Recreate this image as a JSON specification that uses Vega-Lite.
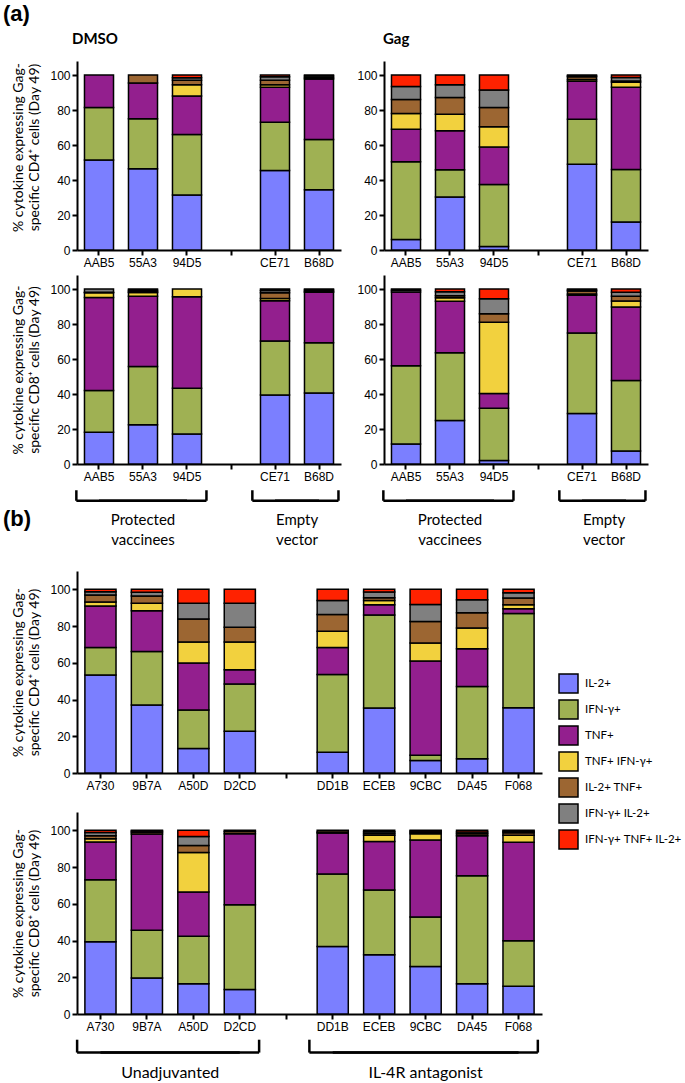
{
"$schema":"https://vega.github.io/schema/vega-lite/v6.json",
"autosize":{"type":"pad"},
"padding":{"left":3,"top":3,"right":0,"bottom":0},
"title":{"text":"(a)","anchor":"start","frame":"bounds","font":"Liberation Sans","fontSize":22,"fontWeight":"bold","color":"#000","offset":6},
"datasets":{
"bars":[
{"p":"aDC4","a":"AAB5","IL-2+":51.5,"IFN-γ+":30,"TNF+":18.5,"TNF+ IFN-γ+":0,"IL-2+ TNF+":0,"IFN-γ+ IL-2+":0,"IFN-γ+ TNF+ IL-2+":0},
{"p":"aDC4","a":"55A3","IL-2+":46.5,"IFN-γ+":28.5,"TNF+":20.5,"TNF+ IFN-γ+":0,"IL-2+ TNF+":4.5,"IFN-γ+ IL-2+":0,"IFN-γ+ TNF+ IL-2+":0},
{"p":"aDC4","a":"94D5","IL-2+":31.5,"IFN-γ+":34.5,"TNF+":22,"TNF+ IFN-γ+":6.5,"IL-2+ TNF+":2.5,"IFN-γ+ IL-2+":1.5,"IFN-γ+ TNF+ IL-2+":1.5},
{"p":"aDC4","a":"CE71","IL-2+":45.5,"IFN-γ+":27.5,"TNF+":20,"TNF+ IFN-γ+":1.5,"IL-2+ TNF+":2.5,"IFN-γ+ IL-2+":2,"IFN-γ+ TNF+ IL-2+":1},
{"p":"aDC4","a":"B68D","IL-2+":34.5,"IFN-γ+":28.7,"TNF+":34.5,"TNF+ IFN-γ+":0,"IL-2+ TNF+":0.8,"IFN-γ+ IL-2+":1,"IFN-γ+ TNF+ IL-2+":0.5},
{"p":"aGC4","a":"AAB5","IL-2+":6,"IFN-γ+":44.5,"TNF+":18.5,"TNF+ IFN-γ+":9,"IL-2+ TNF+":8,"IFN-γ+ IL-2+":7.5,"IFN-γ+ TNF+ IL-2+":6.5},
{"p":"aGC4","a":"55A3","IL-2+":30.3,"IFN-γ+":15.5,"TNF+":22.4,"TNF+ IFN-γ+":9.4,"IL-2+ TNF+":9.6,"IFN-γ+ IL-2+":7.2,"IFN-γ+ TNF+ IL-2+":5.6},
{"p":"aGC4","a":"94D5","IL-2+":2,"IFN-γ+":35.5,"TNF+":21.3,"TNF+ IFN-γ+":11.7,"IL-2+ TNF+":10.9,"IFN-γ+ IL-2+":10,"IFN-γ+ TNF+ IL-2+":8.6},
{"p":"aGC4","a":"CE71","IL-2+":49,"IFN-γ+":25.7,"TNF+":21.7,"TNF+ IFN-γ+":1,"IL-2+ TNF+":1.6,"IFN-γ+ IL-2+":0.6,"IFN-γ+ TNF+ IL-2+":0.4},
{"p":"aGC4","a":"B68D","IL-2+":16,"IFN-γ+":30,"TNF+":47,"TNF+ IFN-γ+":2.8,"IL-2+ TNF+":0.8,"IFN-γ+ IL-2+":2,"IFN-γ+ TNF+ IL-2+":1.4},
{"p":"aDC8","a":"AAB5","IL-2+":18.2,"IFN-γ+":23.8,"TNF+":53.2,"TNF+ IFN-γ+":2.7,"IL-2+ TNF+":0.3,"IFN-γ+ IL-2+":1.8,"IFN-γ+ TNF+ IL-2+":0},
{"p":"aDC8","a":"55A3","IL-2+":22.4,"IFN-γ+":33.3,"TNF+":40.1,"TNF+ IFN-γ+":2.2,"IL-2+ TNF+":0.5,"IFN-γ+ IL-2+":0.8,"IFN-γ+ TNF+ IL-2+":0.7},
{"p":"aDC8","a":"94D5","IL-2+":17.2,"IFN-γ+":26.1,"TNF+":52.3,"TNF+ IFN-γ+":4.4,"IL-2+ TNF+":0,"IFN-γ+ IL-2+":0,"IFN-γ+ TNF+ IL-2+":0},
{"p":"aDC8","a":"CE71","IL-2+":39.5,"IFN-γ+":30.8,"TNF+":23,"TNF+ IFN-γ+":1.3,"IL-2+ TNF+":3.3,"IFN-γ+ IL-2+":1.2,"IFN-γ+ TNF+ IL-2+":0.9},
{"p":"aDC8","a":"B68D","IL-2+":40.6,"IFN-γ+":28.7,"TNF+":28.8,"TNF+ IFN-γ+":0,"IL-2+ TNF+":0.5,"IFN-γ+ IL-2+":0.8,"IFN-γ+ TNF+ IL-2+":0.6},
{"p":"aGC8","a":"AAB5","IL-2+":11.4,"IFN-γ+":44.8,"TNF+":42.1,"TNF+ IFN-γ+":0,"IL-2+ TNF+":0,"IFN-γ+ IL-2+":1,"IFN-γ+ TNF+ IL-2+":0.7},
{"p":"aGC8","a":"55A3","IL-2+":24.8,"IFN-γ+":38.8,"TNF+":29.4,"TNF+ IFN-γ+":2,"IL-2+ TNF+":1.2,"IFN-γ+ IL-2+":2.3,"IFN-γ+ TNF+ IL-2+":1.5},
{"p":"aGC8","a":"94D5","IL-2+":2,"IFN-γ+":29.8,"TNF+":8.5,"TNF+ IFN-γ+":40.7,"IL-2+ TNF+":4.9,"IFN-γ+ IL-2+":8.5,"IFN-γ+ TNF+ IL-2+":5.6},
{"p":"aGC8","a":"CE71","IL-2+":28.9,"IFN-γ+":45.9,"TNF+":21.7,"TNF+ IFN-γ+":0.7,"IL-2+ TNF+":1.6,"IFN-γ+ IL-2+":0.7,"IFN-γ+ TNF+ IL-2+":0.5},
{"p":"aGC8","a":"B68D","IL-2+":7.4,"IFN-γ+":40.3,"TNF+":42,"TNF+ IFN-γ+":3.5,"IL-2+ TNF+":2.7,"IFN-γ+ IL-2+":2.3,"IFN-γ+ TNF+ IL-2+":1.8},
{"p":"bC4","a":"A730","IL-2+":53.3,"IFN-γ+":15.1,"TNF+":22.5,"TNF+ IFN-γ+":2.2,"IL-2+ TNF+":3.8,"IFN-γ+ IL-2+":1.8,"IFN-γ+ TNF+ IL-2+":1.3},
{"p":"bC4","a":"9B7A","IL-2+":37,"IFN-γ+":29.2,"TNF+":22.1,"TNF+ IFN-γ+":4.2,"IL-2+ TNF+":3.9,"IFN-γ+ IL-2+":2,"IFN-γ+ TNF+ IL-2+":1.6},
{"p":"bC4","a":"A50D","IL-2+":13.3,"IFN-γ+":21,"TNF+":25.6,"TNF+ IFN-γ+":11.5,"IL-2+ TNF+":12.5,"IFN-γ+ IL-2+":8.6,"IFN-γ+ TNF+ IL-2+":7.5},
{"p":"bC4","a":"D2CD","IL-2+":22.8,"IFN-γ+":25.6,"TNF+":7.8,"TNF+ IFN-γ+":15.2,"IL-2+ TNF+":8,"IFN-γ+ IL-2+":13.1,"IFN-γ+ TNF+ IL-2+":7.5},
{"p":"bC4","a":"DD1B","IL-2+":11.3,"IFN-γ+":42.3,"TNF+":14.8,"TNF+ IFN-γ+":8.8,"IL-2+ TNF+":9.1,"IFN-γ+ IL-2+":7.7,"IFN-γ+ TNF+ IL-2+":6},
{"p":"bC4","a":"ECEB","IL-2+":35.4,"IFN-γ+":50.7,"TNF+":5.5,"TNF+ IFN-γ+":2.4,"IL-2+ TNF+":1.5,"IFN-γ+ IL-2+":3,"IFN-γ+ TNF+ IL-2+":1.5},
{"p":"bC4","a":"9CBC","IL-2+":6.8,"IFN-γ+":2.9,"TNF+":51.3,"TNF+ IFN-γ+":9.8,"IL-2+ TNF+":11.7,"IFN-γ+ IL-2+":9.3,"IFN-γ+ TNF+ IL-2+":8.2},
{"p":"bC4","a":"DA45","IL-2+":7.8,"IFN-γ+":39.3,"TNF+":20.6,"TNF+ IFN-γ+":11.3,"IL-2+ TNF+":8.2,"IFN-γ+ IL-2+":7.1,"IFN-γ+ TNF+ IL-2+":5.7},
{"p":"bC4","a":"F068","IL-2+":35.6,"IFN-γ+":51.3,"TNF+":2.5,"TNF+ IFN-γ+":2.2,"IL-2+ TNF+":3.7,"IFN-γ+ IL-2+":2.9,"IFN-γ+ TNF+ IL-2+":1.8},
{"p":"bC8","a":"A730","IL-2+":39.4,"IFN-γ+":33.7,"TNF+":20.5,"TNF+ IFN-γ+":1.9,"IL-2+ TNF+":1.6,"IFN-γ+ IL-2+":1.8,"IFN-γ+ TNF+ IL-2+":1.1},
{"p":"bC8","a":"9B7A","IL-2+":19.6,"IFN-γ+":26,"TNF+":52.4,"TNF+ IFN-γ+":0,"IL-2+ TNF+":1,"IFN-γ+ IL-2+":0.6,"IFN-γ+ TNF+ IL-2+":0.4},
{"p":"bC8","a":"A50D","IL-2+":16.5,"IFN-γ+":25.8,"TNF+":24.1,"TNF+ IFN-γ+":21.6,"IL-2+ TNF+":3.7,"IFN-γ+ IL-2+":4.9,"IFN-γ+ TNF+ IL-2+":3.4},
{"p":"bC8","a":"D2CD","IL-2+":13.4,"IFN-γ+":46.1,"TNF+":38.7,"TNF+ IFN-γ+":0,"IL-2+ TNF+":1.2,"IFN-γ+ IL-2+":0.6,"IFN-γ+ TNF+ IL-2+":0},
{"p":"bC8","a":"DD1B","IL-2+":36.8,"IFN-γ+":39.4,"TNF+":22.3,"TNF+ IFN-γ+":0.6,"IL-2+ TNF+":0.9,"IFN-γ+ IL-2+":0,"IFN-γ+ TNF+ IL-2+":0},
{"p":"bC8","a":"ECEB","IL-2+":32.3,"IFN-γ+":35.2,"TNF+":26.5,"TNF+ IFN-γ+":3.3,"IL-2+ TNF+":1,"IFN-γ+ IL-2+":1,"IFN-γ+ TNF+ IL-2+":0.7},
{"p":"bC8","a":"9CBC","IL-2+":25.8,"IFN-γ+":27,"TNF+":41.9,"TNF+ IFN-γ+":3.5,"IL-2+ TNF+":0.8,"IFN-γ+ IL-2+":0.6,"IFN-γ+ TNF+ IL-2+":0.4},
{"p":"bC8","a":"DA45","IL-2+":16.5,"IFN-γ+":58.8,"TNF+":21.8,"TNF+ IFN-γ+":0,"IL-2+ TNF+":1,"IFN-γ+ IL-2+":1,"IFN-γ+ TNF+ IL-2+":0.9},
{"p":"bC8","a":"F068","IL-2+":15.1,"IFN-γ+":24.8,"TNF+":53.6,"TNF+ IFN-γ+":3.8,"IL-2+ TNF+":1.4,"IFN-γ+ IL-2+":0.8,"IFN-γ+ TNF+ IL-2+":0.5}
],
"groups":[
{"sec":"a","label":"Protected\nvaccinees","first":"AAB5","last":"94D5","mid":"55A3"},
{"sec":"a","label":"Empty\nvector","first":"CE71","last":"B68D","mid":"CE71"},
{"sec":"b","label":"Unadjuvanted","first":"A730","last":"D2CD","mid":"9B7A"},
{"sec":"b","label":"IL-4R antagonist","first":"DD1B","last":"F068","mid":"9CBC"}
]
},
"vconcat":[
{"hconcat":[
 {"width":264,"height":189,
  "title":{"text":"DMSO","anchor":"start","frame":"group","dx":-5,"offset":14,"font":"Lato","fontSize":15,"fontWeight":"bold","color":"#000"},
  "data":{"name":"bars"},
  "transform":[{"filter":"datum.p === 'aDC4'"},{"fold":["IL-2+","IFN-γ+","TNF+","TNF+ IFN-γ+","IL-2+ TNF+","IFN-γ+ IL-2+","IFN-γ+ TNF+ IL-2+"],"as":["cytokine","pct"]},{"filter":"datum.pct > 0"},{"calculate":"indexof(['IL-2+','IFN-γ+','TNF+','TNF+ IFN-γ+','IL-2+ TNF+','IFN-γ+ IL-2+','IFN-γ+ TNF+ IL-2+'], datum.cytokine)","as":"k"}],
  "mark":"bar",
  "encoding":{
   "x":{"field":"a","type":"nominal","scale":{"domain":["AAB5","55A3","94D5"," ","CE71","B68D"],"paddingInner":0.34,"paddingOuter":0.17},"axis":{"title":null}},
   "y":{"field":"pct","type":"quantitative","stack":"zero","scale":{"domain":[0,108],"nice":false},"axis":{"values":[0,20,40,60,80,100],"titleY":86,"title":["% cytokine expressing Gag-","specific CD4⁺ cells (Day 49)"]}},
   "order":{"field":"k","type":"quantitative"},
   "color":{"field":"cytokine","type":"nominal","scale":{"domain":["IL-2+","IFN-γ+","TNF+","TNF+ IFN-γ+","IL-2+ TNF+","IFN-γ+ IL-2+","IFN-γ+ TNF+ IL-2+"],"range":["#7B7FFF","#9FB153","#931F8E","#F2D13E","#9C6632","#808080","#FF2200"]},"legend":null}
  }
 },
 {"width":264,"height":189,
  "title":{"text":"Gag","anchor":"start","frame":"group","dx":-1,"offset":14,"font":"Lato","fontSize":15,"fontWeight":"bold","color":"#000"},
  "data":{"name":"bars"},
  "transform":[{"filter":"datum.p === 'aGC4'"},{"fold":["IL-2+","IFN-γ+","TNF+","TNF+ IFN-γ+","IL-2+ TNF+","IFN-γ+ IL-2+","IFN-γ+ TNF+ IL-2+"],"as":["cytokine","pct"]},{"filter":"datum.pct > 0"},{"calculate":"indexof(['IL-2+','IFN-γ+','TNF+','TNF+ IFN-γ+','IL-2+ TNF+','IFN-γ+ IL-2+','IFN-γ+ TNF+ IL-2+'], datum.cytokine)","as":"k"}],
  "mark":"bar",
  "encoding":{
   "x":{"field":"a","type":"nominal","scale":{"domain":["AAB5","55A3","94D5"," ","CE71","B68D"],"paddingInner":0.34,"paddingOuter":0.17},"axis":{"title":null}},
   "y":{"field":"pct","type":"quantitative","stack":"zero","scale":{"domain":[0,108],"nice":false},"axis":{"values":[0,20,40,60,80,100],"title":null}},
   "order":{"field":"k","type":"quantitative"},
   "color":{"field":"cytokine","type":"nominal","scale":{"domain":["IL-2+","IFN-γ+","TNF+","TNF+ IFN-γ+","IL-2+ TNF+","IFN-γ+ IL-2+","IFN-γ+ TNF+ IL-2+"],"range":["#7B7FFF","#9FB153","#931F8E","#F2D13E","#9C6632","#808080","#FF2200"]},"legend":null}
  }
 }
],"bounds":"flush","spacing":43,"resolve":{"scale":{"color":"independent"},"legend":{"color":"independent"}}},
{"width":264,"height":214,"data":{"values":[{}]},"mark":{"type":"point","opacity":0},"encoding":{}},
{"hconcat":[
 {"width":264,"height":189,
  "layer":[
   {"data":{"name":"bars"},
    "transform":[{"filter":"datum.p === 'aDC8'"},{"fold":["IL-2+","IFN-γ+","TNF+","TNF+ IFN-γ+","IL-2+ TNF+","IFN-γ+ IL-2+","IFN-γ+ TNF+ IL-2+"],"as":["cytokine","pct"]},{"filter":"datum.pct > 0"},{"calculate":"indexof(['IL-2+','IFN-γ+','TNF+','TNF+ IFN-γ+','IL-2+ TNF+','IFN-γ+ IL-2+','IFN-γ+ TNF+ IL-2+'], datum.cytokine)","as":"k"}],
    "mark":"bar",
    "encoding":{
     "x":{"field":"a","type":"nominal","scale":{"domain":["AAB5","55A3","94D5"," ","CE71","B68D"],"paddingInner":0.34,"paddingOuter":0.17},"axis":{"title":null}},
     "y":{"field":"pct","type":"quantitative","stack":"zero","scale":{"domain":[0,108],"nice":false},"axis":{"values":[0,20,40,60,80,100],"title":["% cytokine expressing Gag-","specific CD8⁺ cells (Day 49)"]}},
     "order":{"field":"k","type":"quantitative"},
     "color":{"field":"cytokine","type":"nominal","scale":{"domain":["IL-2+","IFN-γ+","TNF+","TNF+ IFN-γ+","IL-2+ TNF+","IFN-γ+ IL-2+","IFN-γ+ TNF+ IL-2+"],"range":["#7B7FFF","#9FB153","#931F8E","#F2D13E","#9C6632","#808080","#FF2200"]},"legend":null}
    }},
   {"data":{"name":"groups"},"transform":[{"filter":"datum.sec === 'a'"}],"mark":{"type":"rule","strokeWidth":2.5,"color":"#000"},
    "encoding":{"x":{"field":"first","type":"nominal","bandPosition":-0.28,"axis":{"title":null}},"y":{"datum":-15,"axis":{"values":[0,20,40,60,80,100],"title":["% cytokine expressing Gag-","specific CD8⁺ cells (Day 49)"]}},"y2":{"datum":-21}}},
   {"data":{"name":"groups"},"transform":[{"filter":"datum.sec === 'a'"}],"mark":{"type":"rule","strokeWidth":2.5,"color":"#000"},
    "encoding":{"x":{"field":"last","type":"nominal","bandPosition":1.17,"axis":{"title":null}},"y":{"datum":-15,"axis":{"values":[0,20,40,60,80,100],"title":["% cytokine expressing Gag-","specific CD8⁺ cells (Day 49)"]}},"y2":{"datum":-21}}},
   {"data":{"name":"groups"},"transform":[{"filter":"datum.sec === 'a'"}],"mark":{"type":"rule","strokeWidth":2.5,"color":"#000"},
    "encoding":{"x":{"field":"first","type":"nominal","bandPosition":-0.28,"axis":{"title":null}},"x2":{"field":"last"},"y":{"datum":-21,"axis":{"values":[0,20,40,60,80,100],"title":["% cytokine expressing Gag-","specific CD8⁺ cells (Day 49)"]}}}},
   {"data":{"name":"groups"},"transform":[{"filter":"datum.sec === 'a'"}],"mark":{"type":"rule","strokeWidth":2.5,"color":"#000"},
    "encoding":{"x":{"field":"last","type":"nominal","bandPosition":1.17,"axis":{"title":null}},"x2":{"field":"first"},"y":{"datum":-21,"axis":{"values":[0,20,40,60,80,100],"title":["% cytokine expressing Gag-","specific CD8⁺ cells (Day 49)"]}}}},
   {"data":{"name":"groups"},"transform":[{"filter":"datum.sec === 'a' && datum.mid === '55A3'"}],"mark":{"type":"text","font":"Lato","fontSize":15,"lineBreak":"\n","lineHeight":20,"baseline":"alphabetic","align":"center","color":"#000"},
    "encoding":{"x":{"field":"mid","type":"nominal","bandPosition":0.5,"axis":{"title":null}},"y":{"datum":-35,"axis":{"values":[0,20,40,60,80,100],"title":["% cytokine expressing Gag-","specific CD8⁺ cells (Day 49)"]}},"text":{"field":"label"}}},
   {"data":{"name":"groups"},"transform":[{"filter":"datum.sec === 'a' && datum.mid === 'CE71'"}],"mark":{"type":"text","font":"Lato","fontSize":15,"lineBreak":"\n","lineHeight":20,"baseline":"alphabetic","align":"center","color":"#000"},
    "encoding":{"x":{"field":"mid","type":"nominal","bandPosition":1.26,"axis":{"title":null}},"y":{"datum":-35,"axis":{"values":[0,20,40,60,80,100],"title":["% cytokine expressing Gag-","specific CD8⁺ cells (Day 49)"]}},"text":{"field":"label"}}}
  ]
 },
 {"width":264,"height":189,
  "layer":[
   {"data":{"name":"bars"},
    "transform":[{"filter":"datum.p === 'aGC8'"},{"fold":["IL-2+","IFN-γ+","TNF+","TNF+ IFN-γ+","IL-2+ TNF+","IFN-γ+ IL-2+","IFN-γ+ TNF+ IL-2+"],"as":["cytokine","pct"]},{"filter":"datum.pct > 0"},{"calculate":"indexof(['IL-2+','IFN-γ+','TNF+','TNF+ IFN-γ+','IL-2+ TNF+','IFN-γ+ IL-2+','IFN-γ+ TNF+ IL-2+'], datum.cytokine)","as":"k"}],
    "mark":"bar",
    "encoding":{
     "x":{"field":"a","type":"nominal","scale":{"domain":["AAB5","55A3","94D5"," ","CE71","B68D"],"paddingInner":0.34,"paddingOuter":0.17},"axis":{"title":null}},
     "y":{"field":"pct","type":"quantitative","stack":"zero","scale":{"domain":[0,108],"nice":false},"axis":{"values":[0,20,40,60,80,100],"title":null}},
     "order":{"field":"k","type":"quantitative"},
     "color":{"field":"cytokine","type":"nominal","scale":{"domain":["IL-2+","IFN-γ+","TNF+","TNF+ IFN-γ+","IL-2+ TNF+","IFN-γ+ IL-2+","IFN-γ+ TNF+ IL-2+"],"range":["#7B7FFF","#9FB153","#931F8E","#F2D13E","#9C6632","#808080","#FF2200"]},"legend":null}
    }},
   {"data":{"name":"groups"},"transform":[{"filter":"datum.sec === 'a'"}],"mark":{"type":"rule","strokeWidth":2.5,"color":"#000"},
    "encoding":{"x":{"field":"first","type":"nominal","bandPosition":-0.28,"axis":{"title":null}},"y":{"datum":-15,"axis":{"values":[0,20,40,60,80,100],"title":null}},"y2":{"datum":-21}}},
   {"data":{"name":"groups"},"transform":[{"filter":"datum.sec === 'a'"}],"mark":{"type":"rule","strokeWidth":2.5,"color":"#000"},
    "encoding":{"x":{"field":"last","type":"nominal","bandPosition":1.17,"axis":{"title":null}},"y":{"datum":-15,"axis":{"values":[0,20,40,60,80,100],"title":null}},"y2":{"datum":-21}}},
   {"data":{"name":"groups"},"transform":[{"filter":"datum.sec === 'a'"}],"mark":{"type":"rule","strokeWidth":2.5,"color":"#000"},
    "encoding":{"x":{"field":"first","type":"nominal","bandPosition":-0.28,"axis":{"title":null}},"x2":{"field":"last"},"y":{"datum":-21,"axis":{"values":[0,20,40,60,80,100],"title":null}}}},
   {"data":{"name":"groups"},"transform":[{"filter":"datum.sec === 'a'"}],"mark":{"type":"rule","strokeWidth":2.5,"color":"#000"},
    "encoding":{"x":{"field":"last","type":"nominal","bandPosition":1.17,"axis":{"title":null}},"x2":{"field":"first"},"y":{"datum":-21,"axis":{"values":[0,20,40,60,80,100],"title":null}}}},
   {"data":{"name":"groups"},"transform":[{"filter":"datum.sec === 'a' && datum.mid === '55A3'"}],"mark":{"type":"text","font":"Lato","fontSize":15,"lineBreak":"\n","lineHeight":20,"baseline":"alphabetic","align":"center","color":"#000"},
    "encoding":{"x":{"field":"mid","type":"nominal","bandPosition":0.5,"axis":{"title":null}},"y":{"datum":-35,"axis":{"values":[0,20,40,60,80,100],"title":null}},"text":{"field":"label"}}},
   {"data":{"name":"groups"},"transform":[{"filter":"datum.sec === 'a' && datum.mid === 'CE71'"}],"mark":{"type":"text","font":"Lato","fontSize":15,"lineBreak":"\n","lineHeight":20,"baseline":"alphabetic","align":"center","color":"#000"},
    "encoding":{"x":{"field":"mid","type":"nominal","bandPosition":1.26,"axis":{"title":null}},"y":{"datum":-35,"axis":{"values":[0,20,40,60,80,100],"title":null}},"text":{"field":"label"}}}
  ]
 }
],"bounds":"flush","spacing":43,"resolve":{"scale":{"color":"independent"},"legend":{"color":"independent"}}},
{"width":264,"height":296,"data":{"values":[{}]},"mark":{"type":"point","opacity":0},"encoding":{}},
{"width":465,"height":202,
 "title":{"text":"(b)","anchor":"start","frame":"group","dx":-74,"offset":40,"font":"Liberation Sans","fontSize":22,"fontWeight":"bold","color":"#000"},
 "data":{"name":"bars"},
 "transform":[{"filter":"datum.p === 'bC4'"},{"fold":["IL-2+","IFN-γ+","TNF+","TNF+ IFN-γ+","IL-2+ TNF+","IFN-γ+ IL-2+","IFN-γ+ TNF+ IL-2+"],"as":["cytokine","pct"]},{"filter":"datum.pct > 0"},{"calculate":"indexof(['IL-2+','IFN-γ+','TNF+','TNF+ IFN-γ+','IL-2+ TNF+','IFN-γ+ IL-2+','IFN-γ+ TNF+ IL-2+'], datum.cytokine)","as":"k"}],
 "mark":"bar",
 "encoding":{
  "x":{"field":"a","type":"nominal","scale":{"domain":["A730","9B7A","A50D","D2CD"," ","DD1B","ECEB","9CBC","DA45","F068"],"paddingInner":0.33,"paddingOuter":0.17},"axis":{"title":null}},
  "y":{"field":"pct","type":"quantitative","stack":"zero","scale":{"domain":[0,110],"nice":false},"axis":{"values":[0,20,40,60,80,100],"title":["% cytokine expressing Gag-","specific CD4⁺ cells (Day 49)"]}},
  "order":{"field":"k","type":"quantitative"},
  "color":{"field":"cytokine","type":"nominal","scale":{"domain":["IL-2+","IFN-γ+","TNF+","TNF+ IFN-γ+","IL-2+ TNF+","IFN-γ+ IL-2+","IFN-γ+ TNF+ IL-2+"],"range":["#7B7FFF","#9FB153","#931F8E","#F2D13E","#9C6632","#808080","#FF2200"]},
   "legend":{"orient":"none","legendX":481,"legendY":102,"title":null,"symbolType":"square","symbolSize":361,"symbolStrokeColor":"#000","symbolStrokeWidth":1.5,"symbolOpacity":1,"labelFont":"Lato","labelFontSize":11.5,"labelColor":"#000","labelOffset":6,"rowPadding":1,"labelLimit":200}}
 }
},
{"width":465,"height":39,"data":{"values":[{}]},"mark":{"type":"point","opacity":0},"encoding":{}},
{"width":465,"height":202,
 "layer":[
  {"data":{"name":"bars"},
   "transform":[{"filter":"datum.p === 'bC8'"},{"fold":["IL-2+","IFN-γ+","TNF+","TNF+ IFN-γ+","IL-2+ TNF+","IFN-γ+ IL-2+","IFN-γ+ TNF+ IL-2+"],"as":["cytokine","pct"]},{"filter":"datum.pct > 0"},{"calculate":"indexof(['IL-2+','IFN-γ+','TNF+','TNF+ IFN-γ+','IL-2+ TNF+','IFN-γ+ IL-2+','IFN-γ+ TNF+ IL-2+'], datum.cytokine)","as":"k"}],
   "mark":"bar",
   "encoding":{
    "x":{"field":"a","type":"nominal","scale":{"domain":["A730","9B7A","A50D","D2CD"," ","DD1B","ECEB","9CBC","DA45","F068"],"paddingInner":0.33,"paddingOuter":0.17},"axis":{"title":null}},
    "y":{"field":"pct","type":"quantitative","stack":"zero","scale":{"domain":[0,110],"nice":false},"axis":{"values":[0,20,40,60,80,100],"title":["% cytokine expressing Gag-","specific CD8⁺ cells (Day 49)"]}},
    "order":{"field":"k","type":"quantitative"},
    "color":{"field":"cytokine","type":"nominal","scale":{"domain":["IL-2+","IFN-γ+","TNF+","TNF+ IFN-γ+","IL-2+ TNF+","IFN-γ+ IL-2+","IFN-γ+ TNF+ IL-2+"],"range":["#7B7FFF","#9FB153","#931F8E","#F2D13E","#9C6632","#808080","#FF2200"]},"legend":null}
   }},
  {"data":{"name":"groups"},"transform":[{"filter":"datum.sec === 'b'"}],"mark":{"type":"rule","strokeWidth":2.5,"color":"#000"},
   "encoding":{"x":{"field":"first","type":"nominal","bandPosition":-0.25,"axis":{"title":null}},"y":{"datum":-14,"axis":{"values":[0,20,40,60,80,100],"title":["% cytokine expressing Gag-","specific CD8⁺ cells (Day 49)"]}},"y2":{"datum":-21}}},
  {"data":{"name":"groups"},"transform":[{"filter":"datum.sec === 'b'"}],"mark":{"type":"rule","strokeWidth":2.5,"color":"#000"},
   "encoding":{"x":{"field":"last","type":"nominal","bandPosition":1.12,"axis":{"title":null}},"y":{"datum":-14,"axis":{"values":[0,20,40,60,80,100],"title":["% cytokine expressing Gag-","specific CD8⁺ cells (Day 49)"]}},"y2":{"datum":-21}}},
  {"data":{"name":"groups"},"transform":[{"filter":"datum.sec === 'b'"}],"mark":{"type":"rule","strokeWidth":2.5,"color":"#000"},
   "encoding":{"x":{"field":"first","type":"nominal","bandPosition":-0.25,"axis":{"title":null}},"x2":{"field":"last"},"y":{"datum":-21,"axis":{"values":[0,20,40,60,80,100],"title":["% cytokine expressing Gag-","specific CD8⁺ cells (Day 49)"]}}}},
  {"data":{"name":"groups"},"transform":[{"filter":"datum.sec === 'b'"}],"mark":{"type":"rule","strokeWidth":2.5,"color":"#000"},
   "encoding":{"x":{"field":"last","type":"nominal","bandPosition":1.12,"axis":{"title":null}},"x2":{"field":"first"},"y":{"datum":-21,"axis":{"values":[0,20,40,60,80,100],"title":["% cytokine expressing Gag-","specific CD8⁺ cells (Day 49)"]}}}},
  {"data":{"name":"groups"},"transform":[{"filter":"datum.sec === 'b' && datum.mid === '9CBC'"}],"mark":{"type":"text","font":"Lato","fontSize":16,"baseline":"alphabetic","align":"center","color":"#000"},
   "encoding":{"x":{"field":"mid","type":"nominal","bandPosition":0.5,"axis":{"title":null}},"y":{"datum":-35,"axis":{"values":[0,20,40,60,80,100],"title":["% cytokine expressing Gag-","specific CD8⁺ cells (Day 49)"]}},"text":{"field":"label"}}},
  {"data":{"name":"groups"},"transform":[{"filter":"datum.sec === 'b' && datum.mid === '9B7A'"}],"mark":{"type":"text","font":"Lato","fontSize":16,"baseline":"alphabetic","align":"center","color":"#000"},
   "encoding":{"x":{"field":"mid","type":"nominal","bandPosition":1.25,"axis":{"title":null}},"y":{"datum":-35,"axis":{"values":[0,20,40,60,80,100],"title":["% cytokine expressing Gag-","specific CD8⁺ cells (Day 49)"]}},"text":{"field":"label"}}}
 ]
}
],
"bounds":"flush",
"spacing":0,
"resolve":{"scale":{"color":"independent"},"legend":{"color":"independent"}},
"config":{
 "view":{"stroke":null},
 "bar":{"stroke":"#000","strokeWidth":1.5},
 "axis":{"domainColor":"#000","domainWidth":2,"tickColor":"#000","tickWidth":2,"tickSize":5,"labelColor":"#000","labelFont":"Liberation Sans","labelFontSize":12,"grid":false,"titleFont":"Lato","titleFontSize":14,"titleFontWeight":"normal","titleColor":"#000","titleLineHeight":16},
 "axisX":{"labelAngle":0,"labelPadding":2},
 "axisY":{"labelPadding":2,"titlePadding":8}
}
}
